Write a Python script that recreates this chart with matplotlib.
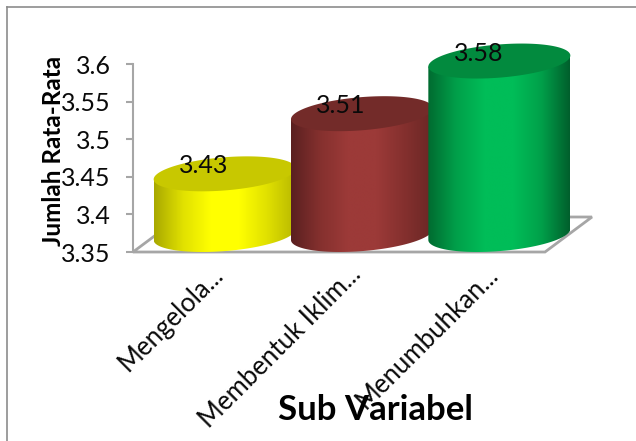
import numpy as np
import matplotlib
matplotlib.use("Agg")
import matplotlib.pyplot as plt
from matplotlib.patches import Polygon
from matplotlib.colors import LinearSegmentedColormap

categories = ["Mengelola...", "Membentuk Iklim...", "Menumbuhkan..."]
values = [3.43, 3.51, 3.58]
yticks = [3.35, 3.4, 3.45, 3.5, 3.55, 3.6]
ytick_labels = ["3.35", "3.4", "3.45", "3.5", "3.55", "3.6"]
y_title = "Jumlah Rata-Rata"
x_title = "Sub Variabel"
top_colors = ["#C8C800", "#732B29", "#028A3E"]
side_colors = [
    ["#A8A800", "#E0E000", "#FFFF00", "#FFFF00", "#E0E000", "#B8B800"],
    ["#5A2020", "#84302E", "#9C3A38", "#9C3A38", "#84302E", "#6A2725"],
    ["#006B30", "#00A04A", "#00BD58", "#00BD58", "#00A04A", "#005F2C"],
]

W, H = 636, 441
plt.rcParams["font.family"] = ["Lato", "DejaVu Sans"]
fig = plt.figure(figsize=(W / 100, H / 100), dpi=100)
ax = fig.add_axes([133 / W, 1 - 252 / H, 412 / W, 188 / H])
ax.set_xlim(0, 3)
ax.set_ylim(3.35, 3.6)
PX, PY = 3 / 412, 0.25 / 188
GRAY = "#A6A6A6"

for s in ax.spines.values():
    s.set_visible(False)
ax.spines["left"].set_visible(True)
ax.spines["left"].set_color(GRAY)
ax.spines["left"].set_linewidth(1.5)
ax.set_xticks([])
ax.set_yticks(yticks)
ax.set_yticklabels(ytick_labels, fontsize=18, color="#0A0A0A")
ax.tick_params(axis="y", length=5, width=1.5, color=GRAY, pad=11)

# floor
floor = Polygon([(0, 3.35), (3, 3.35), (3 + 47 * PX, 3.35 + 35 * PY), (47 * PX, 3.35 + 35 * PY)],
                closed=True, fill=False, edgecolor=GRAY, lw=2, clip_on=False, zorder=1)
ax.add_patch(floor)

t = np.linspace(0, 2 * np.pi, 200)
front = np.linspace(0, -np.pi, 100)
for i, v in enumerate(values):
    cx = i + 0.5 + 23 * PX
    a = 71 * PX
    tilt, b = 5.5 * PY, 16.6 * PY
    y0 = 3.35 + 17.5 * PY
    y1 = v + 18 * PY
    side = np.vstack([
        [[cx - a, y1 - tilt], [cx + a, y1 + tilt]],
        np.c_[cx + a * np.cos(front), y0 + tilt * np.cos(front) + b * np.sin(front)],
    ])
    patch = Polygon(side, closed=True, fc="none", ec="none", transform=ax.transData)
    ax.add_patch(patch)
    patch.set_clip_on(False)
    cmap = LinearSegmentedColormap.from_list("c", side_colors[i])
    im = ax.imshow(np.linspace(0, 1, 256)[None, :], cmap=cmap, aspect="auto",
                   extent=(cx - a, cx + a, 3.33, y1 + 0.02), zorder=2 + i, interpolation="bilinear")
    im.set_clip_box(fig.bbox)
    im.set_clip_path(patch)
    top = Polygon(np.c_[cx + a * np.cos(t), y1 + tilt * np.cos(t) + b * np.sin(t)],
                  closed=True, fc=top_colors[i], ec="none", clip_on=False, zorder=2 + i)
    ax.add_patch(top)
    ax.annotate(f"{v:.2f}", (i + 0.5, v), xytext=(1.5, 26 * 0.72), textcoords="offset points",
                ha="center", va="center", fontsize=18, color="#0A0A0A", zorder=10,
                annotation_clip=False)
    ax.annotate(categories[i], (i + 0.5, 3.35), xytext=(9 * 0.72, -10 * 0.72),
                textcoords="offset points", ha="right", va="top", rotation=45,
                rotation_mode="anchor", fontsize=18.5, color="#0A0A0A", annotation_clip=False)

ax.set_xlim(0, 3)
ax.set_ylim(3.35, 3.6)

fig.text(53.5 / W, 1 - 151 / H, y_title, rotation=90, ha="center", va="center",
         fontsize=17.5, fontweight="bold", color="black", zorder=20)
fig.text(375 / W, 1 - 410 / H, x_title, ha="center", va="center",
         fontsize=25, fontweight="bold", color="black", zorder=20)

# chart frame: only the top and left edges are in the picture
fig.add_artist(plt.Line2D([6.5 / W, 6.5 / W], [0, 1 - 6.5 / H], color="#8C8C8C", lw=1.2))
fig.add_artist(plt.Line2D([6.5 / W, 1], [1 - 6.5 / H, 1 - 6.5 / H], color="#8C8C8C", lw=1.2))

fig.savefig("out.png", dpi=100)
